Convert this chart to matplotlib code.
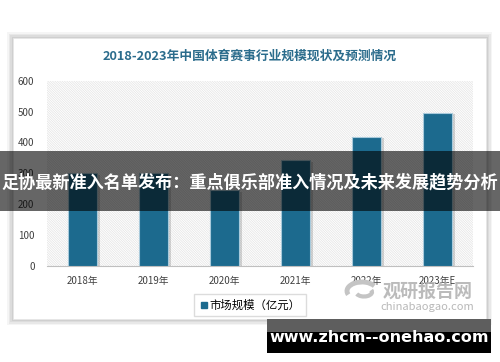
import matplotlib
matplotlib.use("Agg")
import matplotlib.pyplot as plt
from matplotlib.patches import Rectangle, Arc
from matplotlib.lines import Line2D
import matplotlib.patheffects as pe

plt.rcParams['font.family'] = ['Noto Sans CJK SC', 'DejaVu Sans']
plt.rcParams['hatch.linewidth'] = 0.5

# data
years = ["2018年", "2019年", "2020年", "2021年", "2022年", "2023年E"]
market_size = [300, 302, 245, 342, 419, 496]
y_ticks = [0, 100, 200, 300, 400, 500, 600]

title = "2018-2023年中国体育赛事行业规模现状及预测情况"
legend_label = "市场规模（亿元）"
banner_text = "足协最新准入名单发布：重点俱乐部准入情况及未来发展趋势分析"
site_text = "www.zhcm--onehao.com"

W, H = 500, 362
bar_color = "#1c6a8e"
title_color = "#2b6c8c"


def fx(px):
    return px / W


def fy(py):
    return 1 - py / H


fig = plt.figure(figsize=(5, 3.62), dpi=100)
fig.patch.set_facecolor("white")

# card with a soft shadow (behind the axes)
for i, a in enumerate([0.04, 0.05, 0.05, 0.06]):
    g = 6 - i * 1.5
    fig.patches.append(Rectangle((fx(13 - g), fy(319 + g)), fx(473 + 2 * g), (281 + 2 * g) / H,
                                 transform=fig.transFigure, facecolor="black", alpha=a,
                                 edgecolor="none", zorder=-3))
fig.patches.append(Rectangle((fx(13), fy(319)), fx(473), 281 / H, transform=fig.transFigure,
                             facecolor="white", edgecolor="#e6e6e6", lw=0.5, zorder=-2))

ax = fig.add_axes([fx(47), fy(266), fx(426), (266 - 80.7) / H])
ax.set_facecolor("none")
ax.add_patch(Rectangle((0, 0), 1, 1, transform=ax.transAxes, facecolor="white",
                       hatch="\\" * 14, edgecolor="#e3e3e3", lw=0, zorder=0))

x = list(range(len(years)))
bars = ax.bar(x, market_size, width=0.42, color=bar_color, edgecolor="#a9cadb",
              linewidth=0.8, zorder=3)
for b in bars:
    b.set_path_effects([pe.SimplePatchShadow(offset=(2, -1), shadow_rgbFace="#000000", alpha=0.15),
                        pe.Normal()])

ax.set_xlim(-0.5, len(years) - 0.5)
ax.set_ylim(0, 600)
ax.set_yticks(y_ticks)
ax.set_xticks(x)
ax.set_xticklabels(years)
ax.tick_params(axis="both", length=0, labelsize=7, labelcolor="#404040")
ax.tick_params(axis="y", pad=9)
ax.tick_params(axis="x", pad=7)
for s in ["top", "right", "left"]:
    ax.spines[s].set_visible(False)
ax.spines["bottom"].set_color("#bfbfbf")
ax.spines["bottom"].set_linewidth(0.8)

fig.text(0.5, fy(56), title, ha="center", va="center", fontsize=9.2, fontweight="bold",
         color=title_color)

handle = Line2D([], [], marker="s", linestyle="none", markersize=4.5, color=bar_color)
fig.legend([handle], [legend_label], loc="center", bbox_to_anchor=(0.5, fy(305)),
           fontsize=8.2, frameon=True, fancybox=False, edgecolor="#d4d4d4",
           handletextpad=0.1, borderpad=0.45, borderaxespad=0, handlelength=0.8)

# watermark logo
wm = "#b0b0b0"
fig.patches.append(Arc((fx(362), fy(291)), fx(30), 18 / H, theta1=30, theta2=200,
                       transform=fig.transFigure, color="#c4c4c4", lw=3.5, zorder=5))
fig.patches.append(Arc((fx(364), fy(292)), fx(16), 9 / H, theta1=200, theta2=20,
                       transform=fig.transFigure, color="#c4c4c4", lw=3, zorder=5))
fig.text(fx(428), fy(291), "观研报告网", ha="center", va="center", fontsize=13,
         fontweight="bold", color=wm, alpha=0.85, zorder=5)
fig.text(fx(427), fy(307), "chinabaogao.com", ha="center", va="center", fontsize=8,
         color=wm, alpha=0.9, zorder=5)

# banner over the chart
fig.patches.append(Rectangle((0, fy(211)), 1, 60 / H, transform=fig.transFigure,
                             facecolor="black", alpha=0.6, edgecolor="none", zorder=10))
fig.text(0.5, fy(182), banner_text, ha="center", va="center", fontsize=12.3,
         fontweight="bold", color="white", zorder=11)

# site box at bottom right
fig.patches.append(Rectangle((fx(267), fy(353)), fx(224), 34 / H, transform=fig.transFigure,
                             facecolor="black", edgecolor="none", zorder=10))
fig.patches.append(Rectangle((fx(267), fy(332)), fx(224), 13 / H, transform=fig.transFigure,
                             facecolor="#5e5e5e", edgecolor="none", zorder=10))
fig.text(fx(379), fy(338), site_text, ha="center", va="center", fontsize=11.5,
         fontweight="bold", color="white", family=["DejaVu Sans"], zorder=11)

fig.savefig("out.png", dpi=100)
